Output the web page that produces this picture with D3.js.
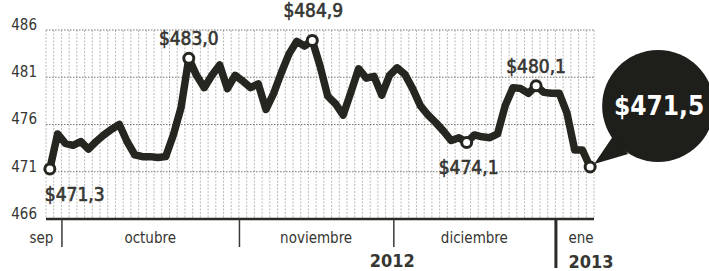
<!DOCTYPE html>
<html>
<head>
<meta charset="utf-8">
<script src="https://cdn.jsdelivr.net/npm/d3@7"></script>
<style>
  body { margin: 0; background: #fff; }
  svg { display: block; }
  text { font-family: "DejaVu Sans Condensed", "DejaVu Sans", sans-serif; fill: #363632; }
</style>
</head>
<body>
<div id="chart"></div>
<script>
// dolar observado, one value per trading day (28 sep 2012 - 3 ene 2013)
var values = [
  471.3, 475.0, 474.0, 473.8, 474.2, 473.4, 474.2, 474.9, 475.5, 476.0,
  474.2, 472.8, 472.6, 472.6, 472.5, 472.6, 474.9, 477.8, 483.0, 481.2,
  479.9, 481.2, 482.3, 479.8, 481.2, 480.6, 479.9, 480.3, 477.6, 479.3,
  481.5, 483.5, 484.8, 484.3, 484.9, 482.2, 479.0, 478.2, 477.0, 479.4,
  481.9, 480.9, 481.1, 479.1, 481.2, 482.0, 481.3, 479.8, 478.0, 477.0,
  476.2, 475.3, 474.3, 474.6, 474.1, 474.9, 474.7, 474.6, 475.0, 478.0,
  479.9, 479.8, 479.3, 480.1, 479.4, 479.3, 479.3, 477.2, 473.3, 473.3,
  471.5
];
var months = ["sep", "octubre", "noviembre", "diciembre", "ene"];
var monthBreaks = [1.5, 24.5, 44.5, 65.5];   // index between last day of a month and first of the next
var years = ["2012", "2013"];
var yTicks = [466, 471, 476, 481, 486];
var markIdx = [0, 18, 34, 54, 63];
var markLabels = ["$471,3", "$483,0", "$484,9", "$474,1", "$480,1"];
var lastLabel = "$471,5";

var width = 709, height = 271,
    margin = {top: 30, right: 115, bottom: 52, left: 46};

var svg = d3.select("#chart").append("svg")
  .attr("width", width)
  .attr("height", height);

var x = d3.scaleLinear().domain([-0.5, values.length - 0.5]).range([margin.left, width - margin.right]);
var y = d3.scaleLinear().domain([466, 486]).range([height - margin.bottom, margin.top]);

// vertical dashed grid, one per day
svg.append("g")
  .selectAll("line")
  .data(d3.range(-0.5, values.length, 1))
  .enter().append("line")
  .attr("x1", d => x(d)).attr("x2", d => x(d))
  .attr("y1", y(486)).attr("y2", y(466))
  .attr("stroke", "#a8a8a4")
  .attr("stroke-width", 0.8)
  .attr("stroke-dasharray", "2,1.5");

// horizontal dotted grid
svg.append("g")
  .selectAll("line")
  .data(yTicks.slice(1))
  .enter().append("line")
  .attr("x1", x.range()[0]).attr("x2", x.range()[1])
  .attr("y1", d => y(d)).attr("y2", d => y(d))
  .attr("stroke", "#777772")
  .attr("stroke-width", 1)
  .attr("stroke-dasharray", "1.5,1.5");

// y axis
var yAxis = svg.append("g")
  .attr("transform", `translate(${margin.left - 9},0)`)
  .call(d3.axisLeft(y).tickValues(yTicks).tickSize(0).tickFormat(d3.format("d")));
yAxis.select(".domain").remove();
yAxis.selectAll("text")
  .attr("x", 0)
  .attr("dy", "-0.05em")
  .style("font-size", "15px")
  .style("font-family", "'DejaVu Sans Condensed', sans-serif")
  .style("fill", "#363632");

// x axis: month separators
var xAxis = svg.append("g")
  .attr("transform", `translate(0,${y(466)})`)
  .call(d3.axisBottom(x).tickValues(monthBreaks).tickSize(28).tickFormat(""));
xAxis.select(".domain")
  .attr("d", `M${x.range()[0]},0H${x.range()[1]}`)
  .attr("stroke", "#2a2a26")
  .attr("stroke-width", 2.5);
xAxis.selectAll(".tick line")
  .attr("stroke", "#3a3a36")
  .attr("stroke-width", 1.5);
xAxis.selectAll(".tick line").filter((d, i) => i == monthBreaks.length - 1)
  .attr("y2", 49)
  .attr("stroke", "#2a2a26")
  .attr("stroke-width", 3);

// month labels
var edges = [x.domain()[0]].concat(monthBreaks, [x.domain()[1]]);
svg.append("g")
  .selectAll("text")
  .data(months)
  .enter().append("text")
  .attr("x", (d, i) => {
    if (i == 0) return x(edges[1]) - 8;
    if (i == months.length - 1) return x(edges[i]) + 13;
    return (x(edges[i]) + x(edges[i + 1])) / 2;
  })
  .attr("y", 243)
  .attr("text-anchor", (d, i) => i == 0 ? "end" : (i == months.length - 1 ? "start" : "middle"))
  .style("font-size", "15px")
  .text(d => d);

// years
svg.append("text")
  .attr("x", x(monthBreaks[2]) - 1)
  .attr("y", 267)
  .attr("text-anchor", "middle")
  .style("font-size", "18px")
  .style("font-weight", "bold")
  .text(years[0]);
svg.append("text")
  .attr("x", x(monthBreaks[3]) + 13)
  .attr("y", 268)
  .attr("text-anchor", "start")
  .style("font-size", "18px")
  .style("font-weight", "bold")
  .text(years[1]);

// callout bubble for the last value
var last = values.length - 1;
var cx = x(last) + 68, cy = y(values[last]) - 61, r = 56;
svg.append("path")
  .attr("d", `M${cx - 45},${cy + 30}L${x(last) + 4},${y(values[last]) - 3}L${cx - 30},${cy + 48}Z`)
  .attr("fill", "#1e1e1a");
svg.append("circle")
  .attr("cx", cx).attr("cy", cy).attr("r", r)
  .attr("fill", "#1e1e1a");
svg.append("text")
  .attr("x", cx + 1)
  .attr("y", cy + 9)
  .attr("text-anchor", "middle")
  .style("font-size", "26px")
  .style("font-weight", "bold")
  .style("fill", "#fff")
  .text(lastLabel);

// the line
var line = d3.line()
  .x((d, i) => x(i))
  .y(d => y(d))
  .curve(d3.curveLinear);

svg.append("path")
  .datum(values)
  .attr("d", line)
  .attr("fill", "none")
  .attr("stroke", "#262620")
  .attr("stroke-width", 7.5)
  .attr("stroke-linejoin", "round")
  .attr("stroke-linecap", "round");

// marked points
svg.append("g")
  .selectAll("circle")
  .data(markIdx.concat([last]))
  .enter().append("circle")
  .attr("cx", d => x(d))
  .attr("cy", d => y(values[d]))
  .attr("r", 5)
  .attr("fill", "#fff")
  .attr("stroke", "#262620")
  .attr("stroke-width", 3);

// value labels (offsets from the point)
var labelPos = [
  {dx: -5, dy: 32, anchor: "start"},
  {dx: 0, dy: -13, anchor: "middle"},
  {dx: 1, dy: -23, anchor: "middle"},
  {dx: 2, dy: 32, anchor: "middle"},
  {dx: 0, dy: -13, anchor: "middle"}
];
svg.append("g")
  .selectAll("text")
  .data(markIdx)
  .enter().append("text")
  .attr("x", (d, i) => x(d) + labelPos[i].dx)
  .attr("y", (d, i) => y(values[d]) + labelPos[i].dy)
  .attr("text-anchor", (d, i) => labelPos[i].anchor)
  .style("font-size", "19px")
  .style("stroke", "#363632")
  .style("stroke-width", 0.6)
  .text((d, i) => markLabels[i]);
</script>
</body>
</html>
